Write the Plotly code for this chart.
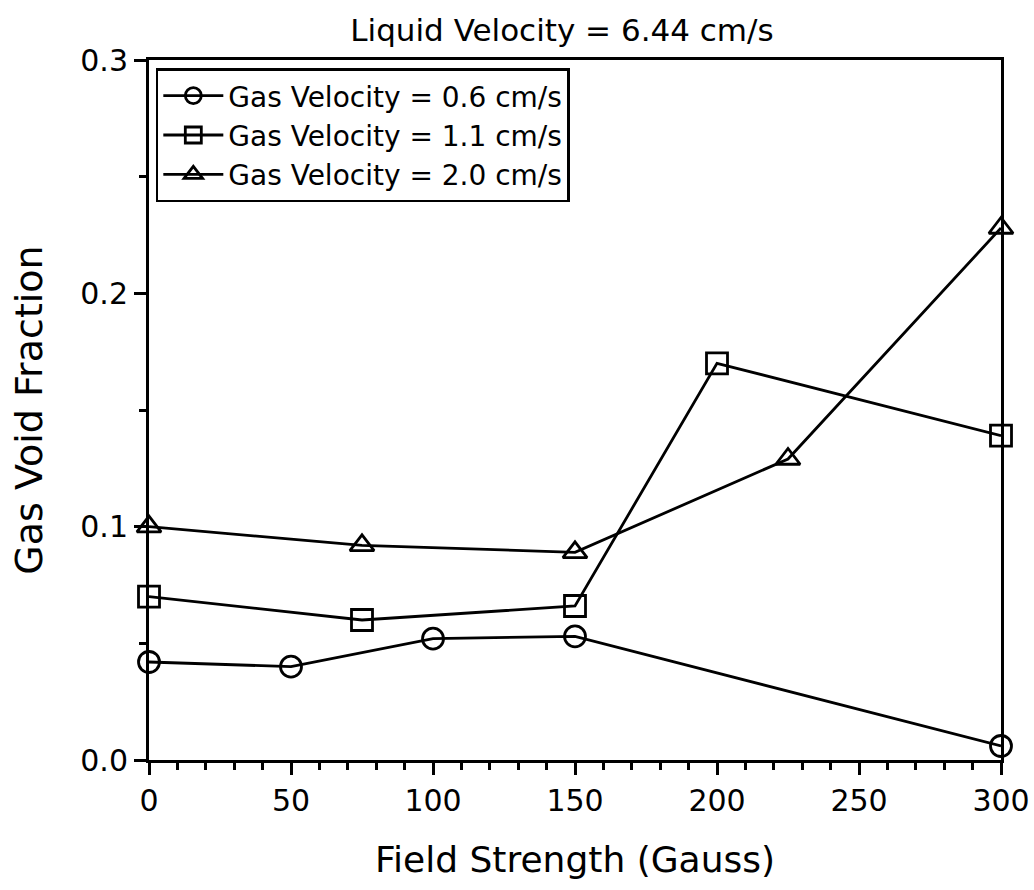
import plotly.graph_objects as go

field_06 = [0, 50, 100, 150, 300]
field_11 = [0, 75, 150, 200, 300]
field_20 = [0, 75, 150, 225, 300]
void_06 = [0.042, 0.040, 0.052, 0.053, 0.006]
void_11 = [0.070, 0.060, 0.066, 0.170, 0.139]
void_20 = [0.100, 0.092, 0.089, 0.129, 0.228]
names = ["Gas Velocity = 0.6 cm/s", "Gas Velocity = 1.1 cm/s", "Gas Velocity = 2.0 cm/s"]
symbols = ["circle-open", "square-open", "triangle-up-open"]

FONT = "DejaVu Sans"
fig = go.Figure()
for xs, ys, nm, sym in [
    (field_06, void_06, names[0], symbols[0]),
    (field_11, void_11, names[1], symbols[1]),
    (field_20, void_20, names[2], symbols[2]),
]:
    fig.add_trace(go.Scatter(
        x=xs, y=ys, name=nm, mode="lines+markers",
        line=dict(color="black", width=2.8),
        marker=dict(symbol=sym, size=21, color="black", line=dict(width=2.8, color="black")),
        cliponaxis=False,
    ))

fig.update_layout(
    width=1034, height=890,
    margin=dict(l=149, r=33, t=60, b=130, autoexpand=False),
    paper_bgcolor="white", plot_bgcolor="white",
    title=dict(text="Liquid Velocity = 6.44 cm/s", x=0.5435, xanchor="center", y=0.966, yanchor="middle",
               font=dict(family=FONT, size=31, color="black")),
    font=dict(family=FONT, color="black"),
    legend=dict(x=0.008, y=0.988, xanchor="left", yanchor="top",
                bordercolor="black", borderwidth=2.5, bgcolor="white",
                font=dict(family=FONT, size=28, color="black"),
                tracegroupgap=0, itemwidth=60),
    showlegend=True,
)
fig.update_xaxes(
    range=[0, 300], tickvals=[0, 50, 100, 150, 200, 250, 300], automargin=False,
    ticks="outside", ticklen=12, tickwidth=3, tickcolor="black",
    minor=dict(dtick=10, ticks="outside", ticklen=7, tickwidth=2.5, tickcolor="black"),
    showline=True, linecolor="black", linewidth=3, mirror=True,
    showgrid=False, zeroline=False,
    tickfont=dict(family=FONT, size=30, color="black"),
    title=dict(text="Field Strength (Gauss)", font=dict(family=FONT, size=36, color="black"), standoff=30),
)
fig.update_yaxes(
    range=[0, 0.3], tickvals=[0, 0.1, 0.2, 0.3], ticktext=["0.0", "0.1", "0.2", "0.3"], automargin=False,
    ticks="outside", ticklen=12, tickwidth=3, tickcolor="black",
    minor=dict(dtick=0.05, ticks="outside", ticklen=7, tickwidth=2.5, tickcolor="black"),
    showline=True, linecolor="black", linewidth=3, mirror=True,
    showgrid=False, zeroline=False,
    tickfont=dict(family=FONT, size=30, color="black"),
    title=dict(text="Gas Void Fraction", font=dict(family=FONT, size=38, color="black"), standoff=26),
)
fig.write_html("out.html")
